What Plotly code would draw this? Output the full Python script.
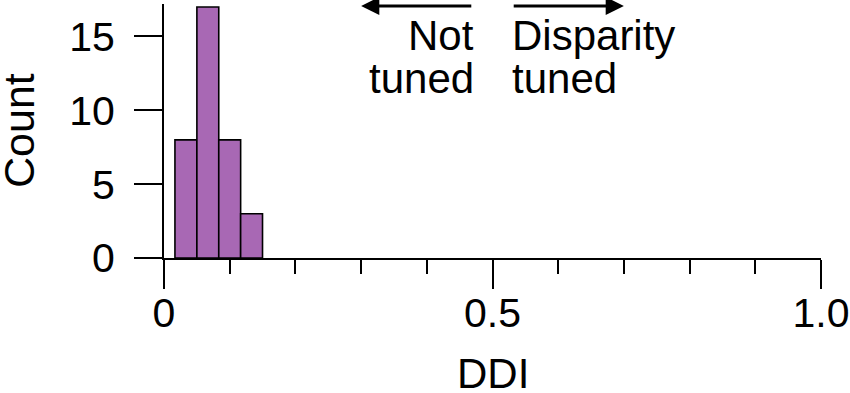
import plotly.graph_objects as go

# ---- data ----
bin_centers = [0.0333, 0.0667, 0.1000, 0.1333]   # DDI bin centers
bin_counts = [8, 17, 8, 3]
bin_width = 0.0333
x_tick_vals = [0, 0.5, 1.0]
x_tick_text = ["0", "0.5", "1.0"]
y_tick_vals = [0, 5, 10, 15]
y_tick_text = ["0", "5", "10", "15"]

FONT = "Liberation Sans, Arial, Helvetica, sans-serif"
FS = 41
BAR_COLOR = "#a868b4"

fig = go.Figure()
fig.add_trace(go.Bar(
    x=bin_centers, y=bin_counts, width=bin_width,
    marker=dict(color=BAR_COLOR, line=dict(color="black", width=1.6)),
    showlegend=False,
))

fig.update_layout(
    width=850, height=393,
    margin=dict(l=164, r=29, t=4, b=135, autoexpand=False),
    paper_bgcolor="white", plot_bgcolor="white",
    font=dict(family=FONT, size=FS, color="black"),
    bargap=0,
    xaxis=dict(
        range=[0, 1.0], tickvals=x_tick_vals, ticktext=x_tick_text,
        ticks="outside", ticklen=29, tickwidth=2, tickcolor="black",
        showline=True, linecolor="black", linewidth=2,
        showgrid=False, zeroline=False, automargin=False,
        tickfont=dict(size=FS), ticklabelstandoff=-11,
        minor=dict(dtick=0.1, tick0=0, ticks="outside", ticklen=14,
                   tickwidth=2, tickcolor="black", showgrid=False),
    ),
    yaxis=dict(
        range=[0, 17.2], tickvals=y_tick_vals, ticktext=y_tick_text,
        ticks="outside", ticklen=28, tickwidth=2, tickcolor="black",
        showline=True, linecolor="black", linewidth=2,
        showgrid=False, zeroline=False, automargin=False,
        tickfont=dict(size=FS), ticklabelstandoff=11,
    ),
)

def py(px):
    return (258 - px) / 254.0

annos = [
    dict(text="Count", xref="paper", yref="paper", x=0, y=0.5,
         xanchor="center", yanchor="middle", textangle=-90, xshift=-145,
         showarrow=False, font=dict(size=43)),
    dict(text="DDI", xref="paper", yref="paper", x=0.5, y=py(373),
         xanchor="center", yanchor="middle", showarrow=False,
         font=dict(size=42)),
    dict(text="Not", xref="x", yref="paper", x=0.475, y=py(35),
         xanchor="right", yanchor="middle", showarrow=False, font=dict(size=42)),
    dict(text="tuned", xref="x", yref="paper", x=0.475, y=py(78),
         xanchor="right", yanchor="middle", showarrow=False, font=dict(size=42)),
    dict(text="Disparity", xref="x", yref="paper", x=0.526, y=py(35),
         xanchor="left", yanchor="middle", showarrow=False, font=dict(size=42)),
    dict(text="tuned", xref="x", yref="paper", x=0.526, y=py(78),
         xanchor="left", yanchor="middle", showarrow=False, font=dict(size=42)),
    # arrows
    dict(text="", xref="x", yref="y domain", axref="x", ayref="y domain",
         x=0.30, y=py(6), ax=0.47, ay=py(6), showarrow=True,
         arrowhead=2, arrowsize=1.3, arrowwidth=2.8, arrowcolor="black"),
    dict(text="", xref="x", yref="y domain", axref="x", ayref="y domain",
         x=0.70, y=py(6), ax=0.53, ay=py(6), showarrow=True,
         arrowhead=2, arrowsize=1.3, arrowwidth=2.8, arrowcolor="black"),
]
fig.update_layout(annotations=annos)

fig.write_html(
    "out.html",
    config={"displayModeBar": False, "staticPlot": True},
    post_script="document.body.style.margin='0';document.body.style.overflow='hidden';",
)
